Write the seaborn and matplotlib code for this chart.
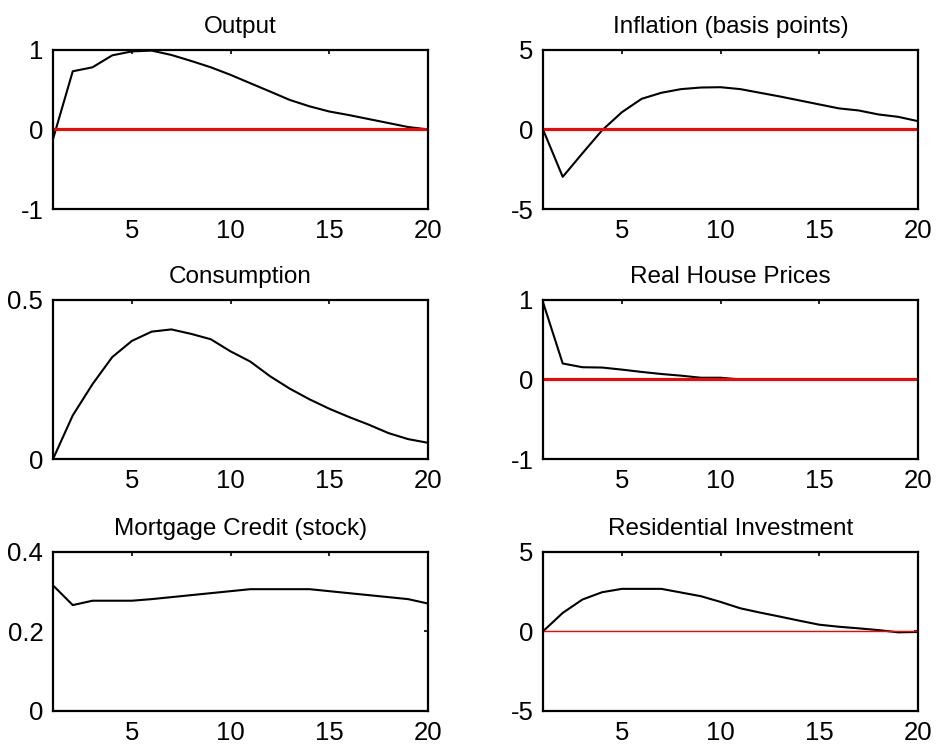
import matplotlib
matplotlib.use("Agg")
import matplotlib.pyplot as plt
import seaborn as sns
import pandas as pd

# Impulse responses over a 20-quarter horizon
periods = list(range(1, 21))

output = [-0.12, 0.73, 0.78, 0.93, 0.98, 0.99, 0.935, 0.86, 0.78, 0.685,
          0.58, 0.476, 0.37, 0.29, 0.225, 0.18, 0.13, 0.08, 0.03, 0.0]
inflation = [0.0, -2.98, -1.5, -0.05, 1.08, 1.92, 2.3, 2.53, 2.63, 2.65,
             2.53, 2.3, 2.07, 1.82, 1.57, 1.32, 1.19, 0.94, 0.79, 0.52]
consumption = [0.0, 0.137, 0.235, 0.32, 0.371, 0.40, 0.407, 0.393, 0.376, 0.338,
               0.306, 0.26, 0.221, 0.1875, 0.158, 0.132, 0.108, 0.0815, 0.0625, 0.051]
house_prices = [0.97, 0.20, 0.153, 0.149, 0.123, 0.094, 0.068, 0.047, 0.021, 0.021,
                0.0, 0.0, 0.0, 0.0, 0.0, 0.0, 0.0, 0.0, 0.0, 0.0]
mortgage_credit = [0.3155, 0.266, 0.277, 0.277, 0.277, 0.281, 0.286, 0.291, 0.296, 0.301,
                   0.306, 0.306, 0.306, 0.306, 0.301, 0.296, 0.291, 0.286, 0.281, 0.27]
res_investment = [0.0, 1.16, 2.0, 2.46, 2.67, 2.67, 2.67, 2.44, 2.21, 1.85,
                  1.45, 1.18, 0.93, 0.67, 0.42, 0.29, 0.19, 0.08, -0.06, -0.04]

titles = ["Output", "Inflation (basis points)", "Consumption",
          "Real House Prices", "Mortgage Credit (stock)", "Residential Investment"]
series = [output, inflation, consumption, house_prices, mortgage_credit, res_investment]
y_limits = [(-1, 1), (-5, 5), (0, 0.5), (-1, 1), (0, 0.4), (-5, 5)]
y_ticks = [[-1, 0, 1], [-5, 0, 5], [0, 0.5], [-1, 0, 1], [0, 0.2, 0.4], [-5, 0, 5]]
y_ticklabels = [["-1", "0", "1"], ["-5", "0", "5"], ["0", "0.5"],
                ["-1", "0", "1"], ["0", "0.2", "0.4"], ["-5", "0", "5"]]
x_ticks = [5, 10, 15, 20]
zero_widths = [2.2, 2.2, 2.2, 2.2, 2.2, 1.0]

sns.set_style("white")
plt.rcParams["font.family"] = ["Liberation Sans", "DejaVu Sans"]
plt.rcParams["axes.unicode_minus"] = False
plt.rcParams["text.color"] = "black"
plt.rcParams["axes.titlecolor"] = "black"

fig = plt.figure(figsize=(9.37, 7.51), dpi=100)

col_left = [0.0566, 0.5795]
row_bottom = [0.7217, 0.3888, 0.0533]
ax_w, ax_h = 0.400, 0.212

for i, (title, vals) in enumerate(zip(titles, series)):
    r, c = divmod(i, 2)
    ax = fig.add_axes([col_left[c], row_bottom[r], ax_w, ax_h])
    df = pd.DataFrame({"period": periods, "response": vals})
    sns.lineplot(data=df, x="period", y="response", ax=ax,
                 color="black", linewidth=1.5)
    ax.axhline(0, color="#ff0000", linewidth=zero_widths[i], zorder=3)
    ax.set_xlim(1, 20)
    ax.set_ylim(*y_limits[i])
    ax.set_xticks(x_ticks)
    ax.set_xticklabels([str(t) for t in x_ticks])
    ax.set_yticks(y_ticks[i])
    ax.set_yticklabels(y_ticklabels[i])
    ax.set_xlabel("")
    ax.set_ylabel("")
    ax.set_title(title, fontsize=17.5, pad=12, color="black")
    ax.tick_params(direction="in", length=3, width=1.2, labelsize=18.5,
                   top=True, right=True, pad=7, colors="black")
    for s in ax.spines.values():
        s.set_visible(True)
        s.set_color("black")
        s.set_linewidth(1.6)
        s.set_zorder(4)

fig.savefig("out.png", dpi=100)
